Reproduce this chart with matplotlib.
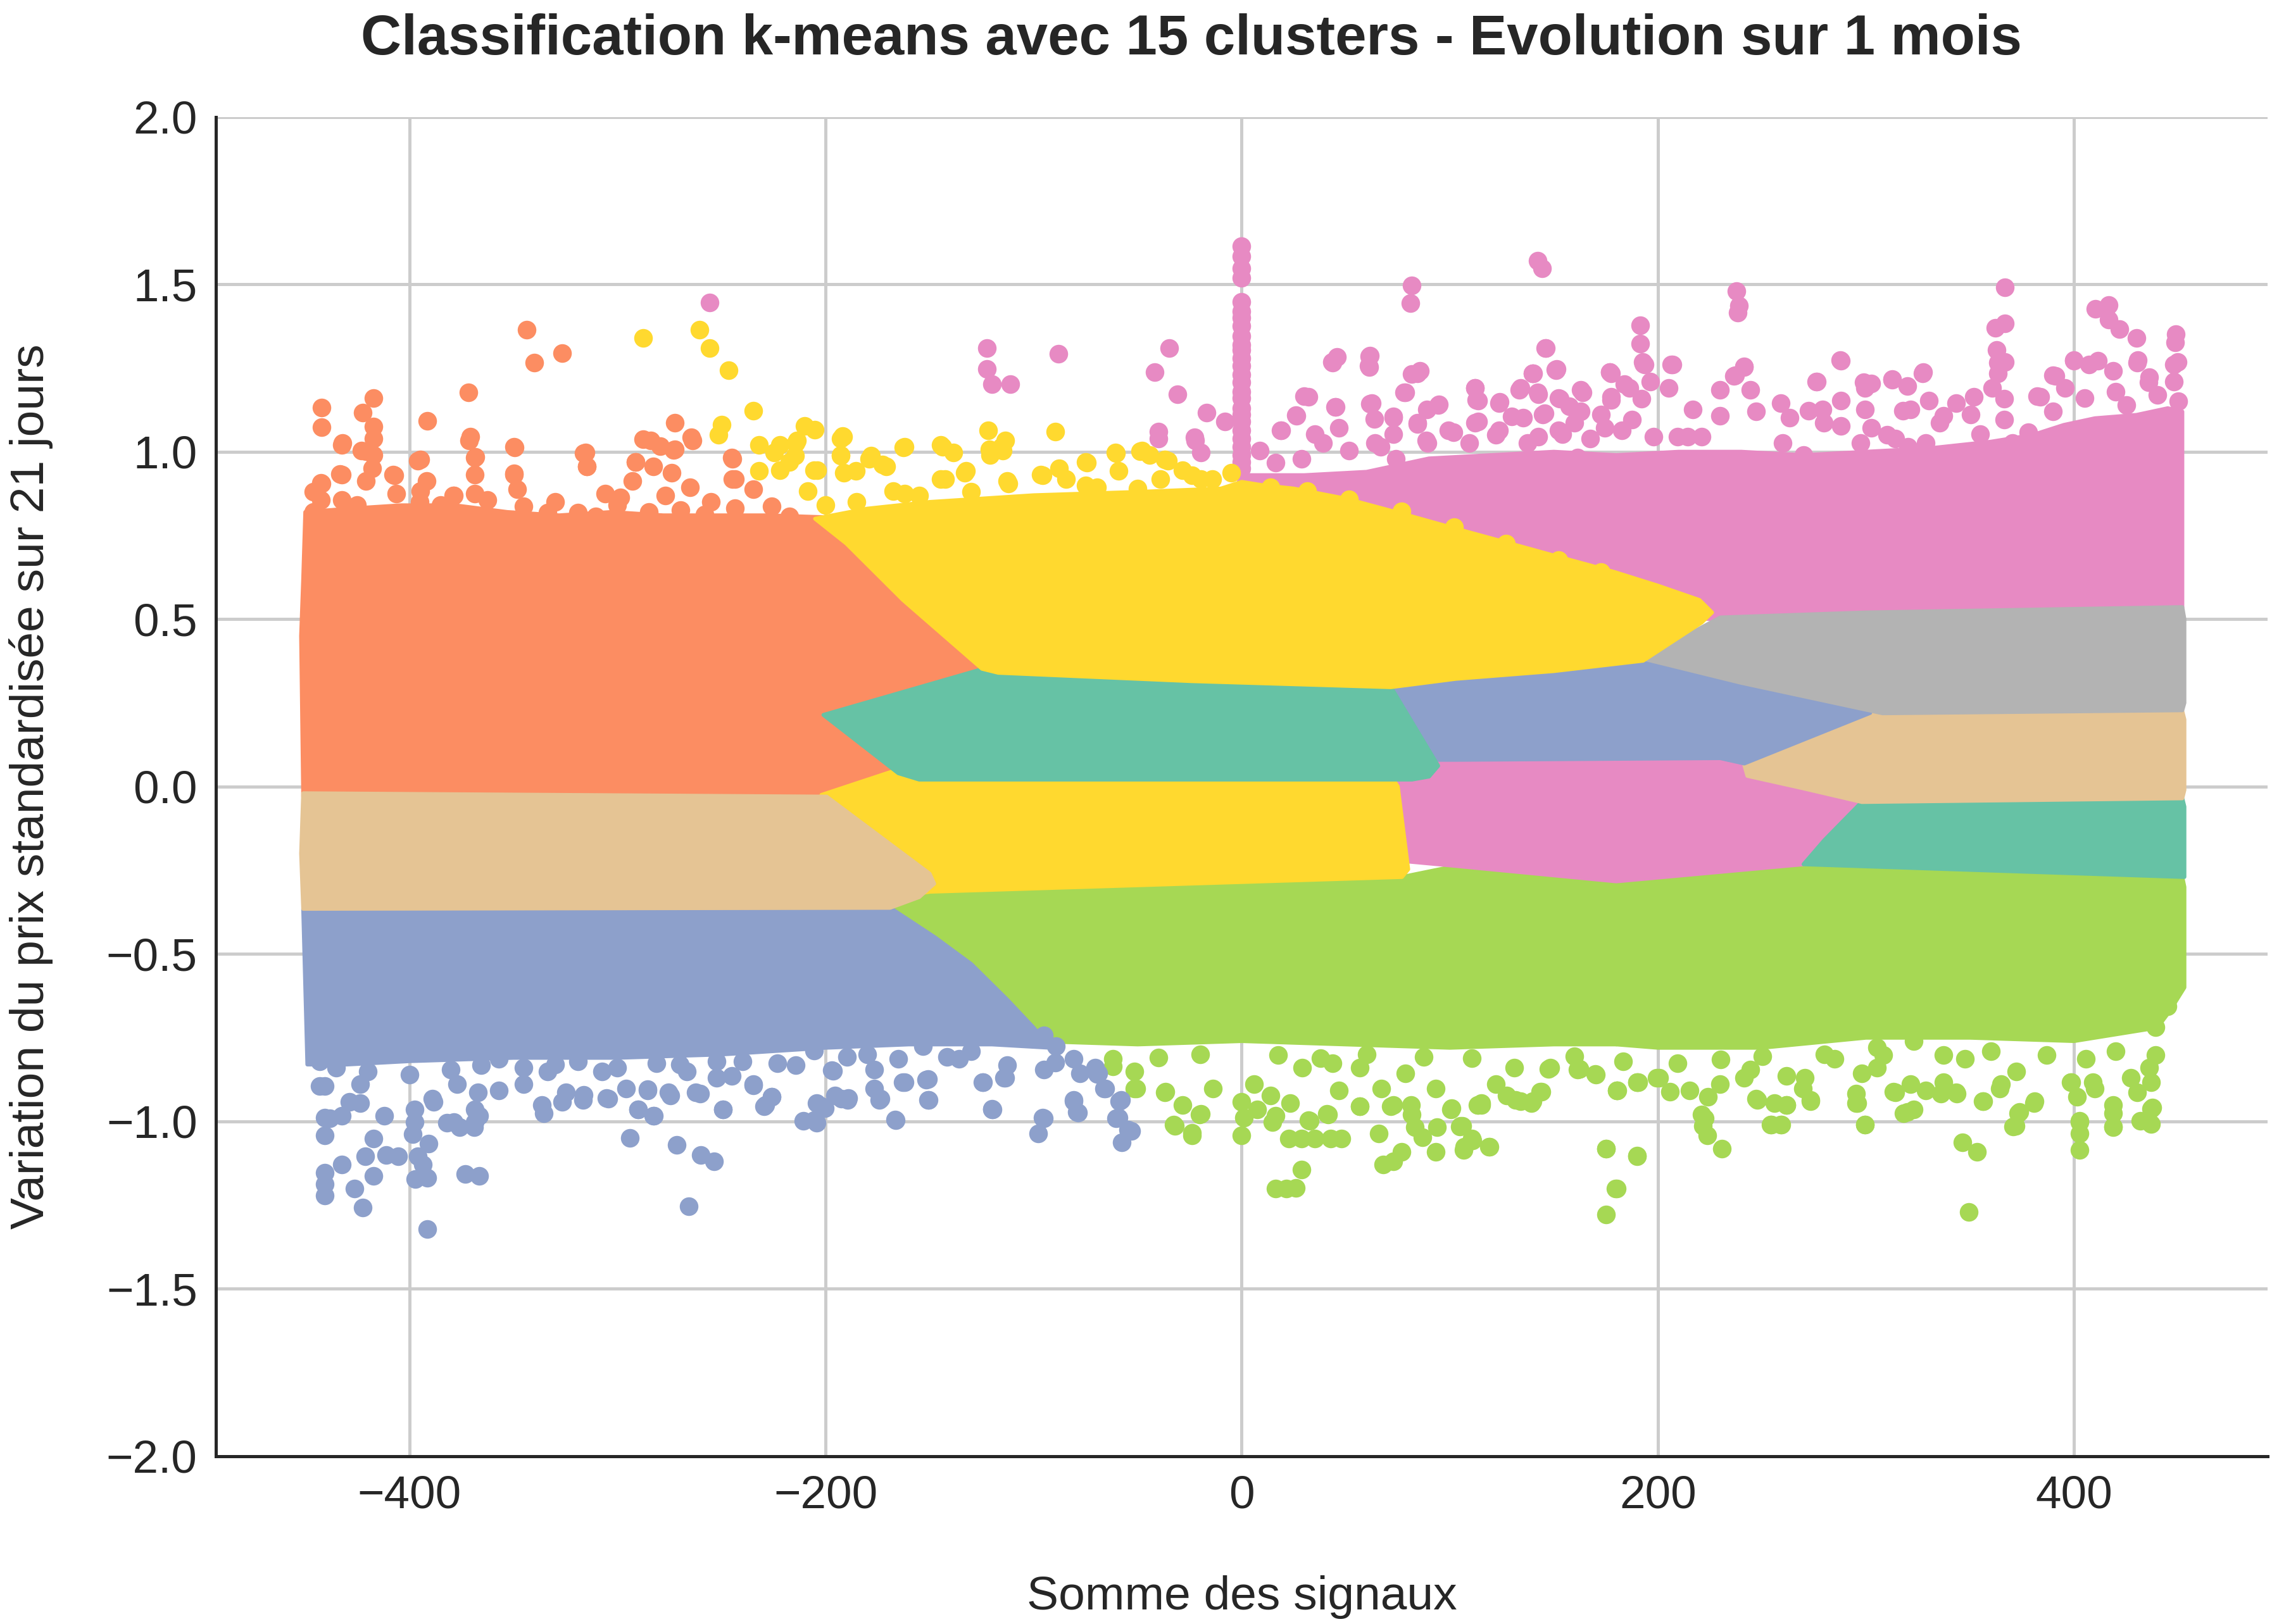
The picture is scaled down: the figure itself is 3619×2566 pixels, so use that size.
import matplotlib
matplotlib.use("Agg")
import matplotlib.pyplot as plt

# ---------------------------
#  Data
# ---------------------------

# Set2 palette, cluster colours
C_TEAL = "#66c2a5"
C_ORANGE = "#fc8d62"
C_BLUE = "#8da0cb"
C_PINK = "#e78ac3"
C_GREEN = "#a6d854"
C_YELLOW = "#ffd92f"
C_TAN = "#e5c494"
C_GREY = "#b3b3b3"

# dense area of each cluster (outer outline of the packed points)
pink_top_shape = [(-5, 0.86), (0, 0.93), (30, 0.93), (60, 0.94), (90, 0.98), (120, 0.99),
                  (150, 1.0), (180, 0.99), (210, 1.0), (240, 1.0), (270, 0.99), (300, 1.0),
                  (330, 1.01), (360, 1.03), (380, 1.05), (395, 1.08), (410, 1.10), (430, 1.11),
                  (445, 1.13), (452, 1.12), (452, 0.535), (225, 0.50), (150, 0.55), (60, 0.70)]
orange_shape = [(-451, -0.03), (-452, 0.45), (-451, 0.62), (-450, 0.82), (-429, 0.83),
                (-404, 0.84), (-378, 0.84), (-353, 0.82), (-328, 0.81), (-303, 0.82),
                (-278, 0.81), (-252, 0.81), (-227, 0.81), (-180, 0.80), (-110, 0.36),
                (-110, 0.0), (-200, -0.03)]
green_left_shape = [(-169, -0.362), (-150, -0.314), (77, -0.27), (103, -0.237), (180, -0.283),
                    (180, -0.77), (150, -0.77), (100, -0.78), (50, -0.77), (0, -0.76),
                    (-50, -0.77), (-100, -0.76), (-105, -0.70)]
green_right_shape = [(180, -0.283), (270, -0.232), (452, -0.27), (453, -0.30), (453, -0.60),
                     (446, -0.67), (440, -0.72), (400, -0.76), (350, -0.75), (300, -0.75),
                     (250, -0.78), (200, -0.78), (180, -0.77)]
pink_mid_shape = [(72, 0.085), (242, 0.085), (243, 0.03), (298, -0.046), (280, -0.16),
                  (270, -0.232), (180, -0.283), (103, -0.237), (77, -0.222), (72, 0.0)]
teal_right_shape = [(298, -0.046), (452, -0.035), (453, -0.06), (453, -0.27), (270, -0.232),
                    (280, -0.16)]
tan_right_shape = [(241.5, 0.065), (261, 0.135), (282, 0.195), (302, 0.222), (452, 0.225),
                   (453, 0.20), (453, -0.01), (452, -0.035), (298, -0.046), (269, -0.004),
                   (243, 0.032)]
blue_mid_shape = [(72, 0.297), (103, 0.322), (192.9, 0.382), (240, 0.31), (295, 0.231),
                  (302, 0.22), (241.5, 0.069), (230, 0.085), (103, 0.08), (80, 0.08)]
grey_shape = [(192.9, 0.382), (230, 0.505), (300, 0.52), (452, 0.536), (453, 0.50),
              (453, 0.25), (452, 0.228), (308, 0.219), (240, 0.31)]
blue_left_shape = [(-451, -0.365), (-169, -0.362), (-147.5, -0.45), (-130, -0.53),
                   (-112.6, -0.637), (-100, -0.72), (-92, -0.78), (-120, -0.77), (-160, -0.77),
                   (-200, -0.78), (-250, -0.80), (-300, -0.81), (-350, -0.81), (-400, -0.82),
                   (-430, -0.83), (-449, -0.83)]
yellow_low_shape = [(-202, -0.025), (-167, 0.047), (-150, 0.05), (72, 0.03), (75, 0.0),
                    (80, -0.247), (77, -0.27), (-150, -0.314), (-165, -0.33)]
tan_left_shape = [(-451, -0.02), (-199.5, -0.03), (-150, -0.26), (-147.8, -0.29),
                  (-155, -0.33), (-169, -0.362), (-451, -0.365), (-452, -0.20)]
teal_left_shape = [(-201, 0.214), (-124, 0.352), (-24, 0.315), (71.7, 0.297), (94.4, 0.062),
                   (90, 0.03), (81.8, 0.021), (-155, 0.021), (-165, 0.04)]
yellow_top_shape = [(-205, 0.80), (-180, 0.83), (-150, 0.85), (-100, 0.87), (-50, 0.88),
                    (-10, 0.89), (0, 0.91), (10, 0.90), (25, 0.89), (50, 0.86), (80, 0.81),
                    (103, 0.77), (129, 0.726), (150, 0.69), (179, 0.641), (200, 0.60),
                    (220, 0.557), (226, 0.52), (221, 0.49), (192.9, 0.376), (150, 0.345),
                    (103, 0.322), (71.7, 0.297), (-24, 0.315), (-117, 0.34), (-124.8, 0.352),
                    (-162.7, 0.557), (-190, 0.726)]

# single points outside the dense areas
orange_pts = [(-442.3, 1.132), (-442.3, 1.073), (-417.3, 1.160), (-422.4, 1.117), (-417.3, 1.075),
              (-417.3, 1.039), (-432.2, 1.027), (-423.1, 1.003), (-417.3, 0.991), (-433.2, 0.933),
              (-442.3, 0.906), (-407.2, 0.930), (-391.4, 1.093), (-371.5, 1.178), (-370.7, 1.045),
              (-368.2, 0.985), (-395.9, 0.973), (-349.5, 1.012), (-343.5, 1.364), (-340.0, 1.266),
              (-326.6, 1.295), (-315.3, 0.997), (-314.8, 0.957), (-287.6, 1.037), (-272.4, 1.087),
              (-264.4, 1.043), (-273.0, 1.005), (-291.3, 0.969), (-279.5, 1.017), (-244.7, 0.979),
              (-244.7, 0.918), (-349.8, 0.936), (-379.0, 0.870), (-442.6, 0.907), (-442.6, 0.856),
              (-432.4, 0.932), (-432.4, 1.020), (-432.4, 0.856), (-420.8, 1.001), (-417.9, 0.951),
              (-420.8, 0.913), (-407.7, 0.932), (-406.2, 0.875), (-394.6, 0.976), (-391.7, 0.913),
              (-394.6, 0.882), (-378.6, 0.869), (-371.3, 1.033), (-368.4, 0.982), (-368.4, 0.932),
              (-368.4, 0.875), (-362.6, 0.856), (-349.6, 1.014), (-349.6, 0.932), (-348.1, 0.888),
              (-345.2, 0.838), (-333.6, 0.819), (-319.0, 0.819), (-316.1, 0.995), (-314.7, 0.957),
              (-310.3, 0.806), (-305.9, 0.875), (-298.7, 0.863), (-291.4, 0.970), (-292.9, 0.913),
              (-284.1, 1.033), (-282.7, 0.957), (-272.5, 1.008), (-274.0, 0.938), (-276.9, 0.869),
              (-265.2, 0.894), (-263.8, 1.033), (-269.6, 0.825), (-258.0, 0.812), (-244.9, 0.982),
              (-243.5, 0.919), (-243.5, 0.831), (-234.7, 0.888), (-226.0, 0.838), (-217.3, 0.806),
              (-446.0, 0.820), (-446.0, 0.880), (-425.0, 0.840), (-385.0, 0.840), (-330.0, 0.850),
              (-300.0, 0.840), (-285.0, 0.820), (-255.0, 0.850), (-395.0, 0.850)]
yellow_pts = [(-287.6, 1.340), (-260.6, 1.364), (-255.6, 1.309), (-246.7, 1.244), (-234.7, 1.123),
              (-249.8, 1.081), (-251.5, 1.051), (-210.0, 1.077), (-205.2, 1.065), (-191.8, 1.047),
              (-231.9, 1.021), (-213.7, 1.033), (-224.6, 0.997), (-232.1, 0.943), (-203.9, 0.945),
              (-191.6, 1.045), (-192.8, 0.991), (-179.0, 0.979), (-162.6, 1.012), (-143.7, 1.015),
              (-138.7, 0.997), (-121.8, 1.063), (-113.5, 1.033), (-114.7, 1.003), (-89.5, 1.061),
              (-121.0, 0.991), (-60.6, 0.997), (-48.0, 1.003), (-44.2, 0.991), (-35.4, 0.973),
              (-74.4, 0.967), (-95.8, 0.930), (-172.7, 0.961), (-185.3, 0.943), (-167.6, 0.882),
              (-155.0, 0.870), (-142.4, 0.918), (-132.4, 0.943), (-112.2, 0.906), (-84.5, 0.918),
              (-69.4, 0.894), (-59.3, 0.943), (-39.1, 0.918), (-24.0, 0.930), (-14.0, 0.918),
              (13.8, 0.894), (31.4, 0.882), (51.6, 0.858), (76.8, 0.822), (102.0, 0.774),
              (127.0, 0.726), (152.4, 0.677), (172.5, 0.641), (-221.8, 1.020), (-214.6, 0.989),
              (-221.8, 0.945), (-214.4, 1.026), (-217.3, 0.970), (-205.6, 0.945), (-208.6, 0.882),
              (-192.6, 0.989), (-192.6, 1.039), (-191.1, 0.938), (-178.0, 0.989), (-170.8, 0.957),
              (-162.0, 1.014), (-162.0, 0.875), (-144.6, 1.020), (-144.6, 0.919), (-133.0, 0.938),
              (-121.3, 1.008), (-112.6, 0.913), (-115.5, 1.014), (-96.6, 0.932), (-87.9, 0.951),
              (-74.9, 0.970), (-60.3, 0.995), (-48.7, 1.001), (-37.1, 0.976), (-19.6, 0.919),
              (-5.1, 0.938), (-28.3, 0.945), (-200.0, 0.840), (-185.0, 0.850), (-130.0, 0.880),
              (-75.0, 0.900), (-50.0, 0.890)]
pink_pts = [(-255.6, 1.446), (-122.5, 1.310), (-122.5, 1.248), (-120.0, 1.202), (-111.2, 1.202),
            (-88.0, 1.292), (-34.8, 1.310), (-41.9, 1.237), (-30.8, 1.172), (-17.0, 1.117),
            (-8.2, 1.090), (-39.9, 1.061), (-22.8, 1.044), (-19.7, 0.997), (-40.0, 1.039),
            (-22.5, 1.033),
            (0, 1.613), (0, 1.583), (0, 1.548), (0, 1.52), (0, 1.447), (0, 1.42), (0, 1.40),
            (0, 1.376), (0, 1.346), (0, 1.32), (0, 1.304), (0, 1.28), (0, 1.256), (0, 1.23),
            (0, 1.208), (0, 1.18), (0, 1.16), (0, 1.13), (0, 1.111), (0, 1.09), (0, 1.063),
            (0, 1.04), (0, 1.015), (0, 0.99), (0, 0.97), (0, 0.95),
            (81.8, 1.497), (81.0, 1.443), (142.3, 1.570), (144.3, 1.548), (45.8, 1.283),
            (43.3, 1.268), (61.6, 1.286), (60.9, 1.256), (30.1, 1.166), (44.8, 1.133),
            (25.9, 1.109), (18.8, 1.063), (81.8, 1.232), (85.6, 1.242), (78.0, 1.178),
            (61.6, 1.144), (63.7, 1.097), (73.0, 1.105), (94.9, 1.141), (88.9, 1.126),
            (84.3, 1.087), (112.0, 1.190), (112.8, 1.154), (123.9, 1.148), (146.1, 1.310),
            (139.7, 1.234), (151.1, 1.244), (133.5, 1.184), (142.3, 1.178), (152.4, 1.160),
            (163.7, 1.178), (176.8, 1.238), (183.8, 1.202), (177.6, 1.154), (191.4, 1.377),
            (191.4, 1.322), (192.7, 1.268), (112.0, 1.087), (129.7, 1.105), (144.8, 1.111),
            (159.9, 1.087), (237.6, 1.479), (238.9, 1.437), (238.4, 1.415), (366.7, 1.491),
            (410.2, 1.427), (416.6, 1.439), (416.6, 1.395), (421.7, 1.367), (430.1, 1.340),
            (449.0, 1.352), (448.5, 1.326), (362.1, 1.371), (366.7, 1.383), (362.9, 1.304),
            (145.9, 1.309), (140.0, 1.234), (150.7, 1.246), (192.9, 1.262), (207.0, 1.261),
            (176.8, 1.238), (241.5, 1.254), (236.4, 1.226), (287.5, 1.274), (276.0, 1.210),
            (299.0, 1.208), (312.5, 1.217), (327.4, 1.238), (400.0, 1.274), (430.6, 1.274),
            (449.8, 1.268), (366.7, 1.268), (391.0, 1.226), (382.1, 1.166), (435.7, 1.208),
            (43.8, 1.266), (61.2, 1.253), (61.2, 1.285), (84.5, 1.234), (78.6, 1.178),
            (32.1, 1.165), (45.2, 1.134), (26.3, 1.108), (62.6, 1.146), (72.8, 1.102),
            (84.5, 1.083), (94.6, 1.140), (19.0, 1.064), (35.0, 1.052), (46.7, 1.071),
            (64.1, 1.027), (72.8, 1.052), (88.8, 1.033), (101.9, 1.058), (112.1, 1.190),
            (113.5, 1.153), (113.5, 1.090), (123.7, 1.146), (123.7, 1.064), (133.9, 1.190),
            (139.7, 1.234), (151.3, 1.247), (142.6, 1.171), (135.3, 1.102), (145.5, 1.115),
            (142.6, 1.045), (152.8, 1.159), (163.0, 1.184), (163.0, 1.121), (154.2, 1.052),
            (161.5, 0.982), (177.5, 1.234), (177.5, 1.165), (174.6, 1.071), (186.2, 1.190),
            (192.0, 1.159), (187.6, 1.096), (193.5, 1.260), (196.4, 1.209), (197.8, 1.045),
            (205.1, 1.190), (206.5, 1.260), (209.4, 1.045), (216.7, 1.127), (221.1, 1.045),
            (229.8, 1.184), (229.8, 1.108), (237.1, 1.228), (241.4, 1.253), (244.3, 1.184),
            (247.2, 1.121), (258.9, 1.146), (263.2, 1.102), (276.3, 1.209), (279.2, 1.127),
            (287.9, 1.272), (287.9, 1.152), (287.9, 1.077), (299.6, 1.190), (302.5, 1.203),
            (299.6, 1.127), (302.5, 1.071), (314.1, 1.039), (312.6, 1.215), (319.9, 1.197),
            (321.3, 1.127), (327.2, 1.234), (330.1, 1.152), (337.3, 1.108), (343.2, 1.146),
            (328.6, 1.027), (351.9, 1.165), (360.6, 1.190), (363.5, 1.266), (363.5, 1.234),
            (366.4, 1.159), (366.4, 1.096), (354.8, 1.052), (378.0, 1.058), (383.8, 1.165),
            (389.7, 1.228), (389.7, 1.121), (399.8, 1.272), (407.1, 1.260), (418.7, 1.241),
            (430.4, 1.266), (436.2, 1.222), (447.8, 1.260), (447.8, 1.209), (411.5, 1.272),
            (395.5, 1.190), (8.7, 1.003), (16.3, 0.967), (28.9, 0.979), (39.0, 1.027),
            (51.6, 1.003), (66.7, 1.015), (74.2, 0.979), (89.4, 1.027), (99.4, 1.063),
            (109.5, 1.027), (122.1, 1.051), (137.2, 1.027), (152.4, 1.063), (167.5, 1.039),
            (182.6, 1.063), (172.5, 1.111), (157.4, 1.135), (214.3, 1.045), (272.3, 1.123),
            (317.6, 1.123), (279.8, 1.087), (260.0, 1.027), (270.0, 0.991), (297.5, 1.027),
            (310.1, 1.051), (320.1, 1.015), (335.3, 1.087), (350.4, 1.111), (370.5, 1.027),
            (405.0, 1.160), (420.0, 1.180), (440.0, 1.170), (450.0, 1.150), (425.0, 1.140)]
blue_pts = [(-440.5, -0.895), (-440.5, -0.989), (-440.5, -1.042), (-440.5, -1.153), (-440.5, -1.187),
            (-440.5, -1.221), (-432.4, -0.984), (-432.4, -1.129), (-426.2, -1.201), (-422.4, -1.257),
            (-428.7, -0.941), (-417.3, -1.052), (-417.3, -1.163), (-421.1, -1.105), (-411.0, -1.100),
            (-405.5, -1.105), (-398.4, -1.038), (-395.9, -1.105), (-390.9, -1.066), (-391.4, -1.168),
            (-397.2, -1.172), (-391.4, -1.322), (-393.4, -1.129), (-388.4, -0.941), (-382.0, -1.004),
            (-375.8, -1.018), (-369.0, -1.018), (-366.4, -0.984), (-373.2, -1.158), (-366.4, -1.163),
            (-335.4, -0.975), (-305.2, -0.931), (-316.5, -0.936), (-326.6, -0.941), (-293.9, -1.049),
            (-290.1, -0.965), (-282.5, -0.984), (-285.5, -0.904), (-274.5, -0.922), (-271.4, -1.071),
            (-259.8, -1.100), (-253.6, -1.119), (-265.6, -1.254), (-249.3, -0.965), (-260.4, -0.917),
            (-229.6, -0.955), (-225.8, -0.927), (-234.7, -0.893), (-210.7, -0.999), (-204.4, -1.004),
            (-201.9, -0.955), (-195.6, -0.922), (-189.3, -0.936), (-196.3, -0.849), (-174.2, -0.936),
            (-166.6, -0.994), (-162.8, -0.883), (-150.8, -0.936), (-150.8, -0.873), (-124.5, -0.883),
            (-120.0, -0.962), (-113.7, -0.869), (-189.0, -0.931), (-200.4, -0.960), (-119.8, -0.965),
            (-95.8, -0.989), (-97.9, -1.037), (-80.7, -0.936), (-78.7, -0.973), (-58.0, -0.936),
            (-59.3, -0.989), (-53.0, -1.028), (-57.5, -1.062), (-65.6, -0.902), (-69.4, -0.859),
            (-89.5, -0.825), (-443.0, -0.820), (-443.0, -0.895), (-435.3, -0.839), (-423.7, -0.889),
            (-423.7, -0.946), (-438.2, -0.990), (-412.0, -0.984), (-397.5, -0.965), (-397.5, -1.002),
            (-388.8, -0.933), (-378.6, -1.002), (-368.4, -1.002), (-368.4, -0.965), (-367.0, -0.914),
            (-377.2, -0.889), (-365.5, -0.832), (-356.9, -0.813), (-356.9, -0.908), (-345.2, -0.839),
            (-345.2, -0.889), (-336.4, -0.952), (-333.6, -0.851), (-324.8, -0.914), (-316.1, -0.921),
            (-319.0, -0.820), (-307.4, -0.851), (-304.5, -0.933), (-295.8, -0.902), (-290.0, -0.965),
            (-282.7, -0.984), (-285.6, -0.908), (-275.4, -0.914), (-281.2, -0.826), (-266.7, -0.851),
            (-262.3, -0.914), (-252.2, -0.870), (-252.2, -0.820), (-249.3, -0.965), (-244.9, -0.864),
            (-234.7, -0.889), (-226.0, -0.927), (-228.9, -0.952), (-223.1, -0.826), (-214.4, -0.832),
            (-205.6, -0.788), (-205.6, -0.996), (-204.2, -0.946), (-196.9, -0.848), (-192.5, -0.933),
            (-189.6, -0.807), (-176.6, -0.902), (-173.6, -0.933), (-176.6, -0.845), (-166.4, -0.996),
            (-162.0, -0.883), (-151.8, -0.876), (-150.4, -0.936), (-164.9, -0.813), (-153.3, -0.776),
            (-141.7, -0.807), (-135.8, -0.813), (-124.3, -0.883), (-119.9, -0.965), (-114.1, -0.870),
            (-112.6, -0.832), (-95.2, -0.845), (-95.2, -0.990), (-80.7, -0.939), (-79.2, -0.971),
            (-77.8, -0.857), (-69.0, -0.857), (-66.1, -0.902), (-58.9, -0.939), (-60.3, -0.990),
            (-54.5, -1.024), (-106.8, -0.713), (-95.2, -0.744), (-89.4, -0.776), (-80.7, -0.813),
            (-70.5, -0.839), (-420.0, -0.850), (-400.0, -0.860), (-380.0, -0.845), (-330.0, -0.830),
            (-300.0, -0.840), (-270.0, -0.830), (-240.0, -0.820), (-180.0, -0.800), (-130.0, -0.790)]
green_pts = [(-61.8, -0.813), (-51.6, -0.851), (-51.6, -0.902), (-37.1, -0.914), (-28.3, -0.952),
             (-19.6, -0.977), (-32.7, -1.009), (-24.0, -1.034), (-13.8, -0.902), (-61.8, -0.835),
             (-50.5, -0.902), (-36.6, -0.912), (-32.1, -1.013), (-24.0, -1.042), (-20.2, -0.979),
             (0.0, -1.042), (1.2, -0.989), (0.0, -0.941), (13.8, -0.922), (16.3, -0.984),
             (22.6, -1.052), (28.9, -1.052), (35.2, -1.052), (42.7, -1.052), (47.8, -1.052),
             (32.7, -0.999), (41.5, -0.980), (28.9, -1.144), (16.3, -1.201), (21.3, -1.201),
             (25.9, -1.199), (56.6, -0.955), (65.9, -1.037), (71.7, -0.955), (76.8, -1.090),
             (68.0, -1.129), (73.0, -1.119), (83.1, -1.018), (86.9, -1.047), (93.1, -1.090),
             (93.9, -1.018), (100.7, -0.960), (105.2, -1.013), (110.8, -1.057), (106.5, -1.086),
             (119.1, -1.076), (81.8, -0.980), (175.0, -1.081), (175.0, -1.278), (180.1, -1.201),
             (190.1, -1.105), (180.1, -0.907), (190.1, -0.883), (143.5, -0.912), (113.3, -0.951),
             (127.2, -0.922), (162.4, -0.844), (170.0, -0.859), (147.3, -0.844), (106.0, -1.013),
             (110.6, -1.052), (106.8, -1.076), (118.8, -1.076), (115.0, -0.946), (175.0, -1.081),
             (189.9, -1.103), (179.6, -1.201), (223.6, -1.042), (230.7, -1.081), (221.6, -1.013),
             (221.0, -0.980), (254.3, -1.010), (259.4, -1.010), (299.5, -1.010), (295.7, -0.946),
             (346.3, -1.062), (353.4, -1.090), (349.4, -1.271), (371.8, -1.013), (373.1, -0.975),
             (402.5, -0.999), (402.5, -1.037), (402.5, -1.086), (418.6, -1.018), (418.6, -0.975),
             (437.0, -1.008), (437.0, -0.962), (431.9, -0.999), (356.5, -0.939), (380.8, -0.946),
             (318.2, -0.975), (322.8, -0.965), (180.1, -0.907), (189.9, -0.883), (247.9, -0.936),
             (261.9, -0.951), (273.4, -0.936), (364.2, -0.902), (398.7, -0.883), (408.9, -0.883),
             (437.0, -0.883), (139.2, -0.946), (131.6, -0.936), (113.7, -0.951), (336.1, -0.917),
             (343.7, -0.917), (205.7, -0.912), (162.3, -0.844), (199.3, -0.869), (241.5, -0.869),
             (269.6, -0.902), (295.2, -0.917), (313.1, -0.912), (6.0, -0.889), (7.4, -0.965),
             (14.7, -1.002), (23.4, -0.946), (32.1, -0.996), (40.8, -0.977), (46.7, -0.908),
             (29.2, -0.839), (43.8, -0.826), (56.8, -0.839), (56.8, -0.955), (67.0, -0.902),
             (72.8, -0.952), (81.5, -0.952), (78.6, -0.857), (93.2, -0.902), (100.4, -0.965),
             (104.8, -1.015), (115.0, -0.952), (122.2, -0.889), (133.9, -0.939), (139.7, -0.939),
             (144.0, -0.911), (130.9, -0.839), (148.4, -0.839), (161.5, -0.845), (170.2, -0.861),
             (180.4, -0.908), (190.5, -0.883), (183.3, -0.820), (200.7, -0.870), (215.3, -0.908),
             (222.5, -0.990), (224.0, -0.927), (229.8, -0.889), (247.2, -0.933), (255.9, -0.946),
             (261.8, -0.952), (254.5, -1.009), (258.9, -1.009), (244.3, -0.845), (261.8, -0.864),
             (273.4, -0.939), (270.5, -0.870), (285.0, -0.813), (295.2, -0.946), (299.6, -1.009),
             (298.1, -0.857), (305.4, -0.839), (314.1, -0.914), (319.9, -0.971), (321.3, -0.889),
             (328.6, -0.908), (337.3, -0.883), (337.3, -0.801), (343.2, -0.914), (347.5, -0.813),
             (356.2, -0.939), (364.9, -0.889), (372.2, -0.851), (373.7, -0.971), (370.8, -1.015),
             (380.9, -0.939), (398.4, -0.883), (402.7, -1.002), (401.3, -0.927), (410.0, -0.902),
             (418.7, -1.015), (418.7, -0.952), (427.4, -0.870), (430.4, -0.914), (436.2, -1.002),
             (437.6, -0.958), (436.2, -0.839), (439.1, -0.801), (439.1, -0.719), (444.9, -0.656),
             (405.7, -0.813), (386.8, -0.801), (308.3, -0.801), (250.1, -0.806), (305.4, -0.780),
             (322.8, -0.760), (209.4, -0.826), (110.6, -0.811), (87.4, -0.808), (38.0, -0.811),
             (17.6, -0.802), (-20.0, -0.800), (-40.0, -0.810), (60.0, -0.800), (160.0, -0.805),
             (230.0, -0.815), (280.0, -0.800), (360.0, -0.790), (420.0, -0.790)]

# drawing order matters: later clusters sit on top of earlier ones
clusters = [
    (pink_top_shape, pink_pts, C_PINK),
    (orange_shape, orange_pts, C_ORANGE),
    (green_left_shape, green_pts, C_GREEN),
    (green_right_shape, [], C_GREEN),
    (pink_mid_shape, [], C_PINK),
    (teal_right_shape, [], C_TEAL),
    (tan_right_shape, [], C_TAN),
    (blue_mid_shape, [], C_BLUE),
    (grey_shape, [], C_GREY),
    (blue_left_shape, blue_pts, C_BLUE),
    (yellow_low_shape, [], C_YELLOW),
    (tan_left_shape, [], C_TAN),
    (teal_left_shape, [], C_TEAL),
    (yellow_top_shape, yellow_pts, C_YELLOW),
]

X_TICKS = [-400, -200, 0, 200, 400]
Y_TICKS = [-2.0, -1.5, -1.0, -0.5, 0.0, 0.5, 1.0, 1.5, 2.0]

TITLE = "Classification k-means avec 15 clusters - Evolution sur 1 mois"
XLABEL = "Somme des signaux"
YLABEL = "Variation du prix standardisée sur 21 jours"


def main():
    plt.rcParams["font.family"] = ["Liberation Sans", "DejaVu Sans"]
    plt.rcParams["text.color"] = "#262626"

    fig = plt.figure(figsize=(3619 / 300, 2566 / 300), dpi=300)
    ax = fig.add_axes([0.0942, 0.1033, 0.8956, 0.8247])

    for i, (shape, pts, col) in enumerate(clusters):
        xs = [p[0] for p in shape]
        ys = [p[1] for p in shape]
        ax.fill(xs, ys, color=col, ec=col, lw=1.5, joinstyle="round", zorder=2 + i * 0.1)
        if pts:
            ax.scatter([p[0] for p in pts], [p[1] for p in pts], s=50, color=col,
                       linewidths=0, zorder=2 + i * 0.1 + 0.05)

    ax.set_xlim(-493, 493)
    ax.set_ylim(-2.0, 2.0)
    ax.set_xticks(X_TICKS)
    ax.set_yticks(Y_TICKS)
    ax.grid(True, color="#cccccc", lw=1.2)
    ax.set_axisbelow(True)
    for side in ["top", "right"]:
        ax.spines[side].set_visible(False)
    for side in ["left", "bottom"]:
        ax.spines[side].set_color("#262626")
        ax.spines[side].set_linewidth(1.2)
    ax.tick_params(length=0, pad=7, labelsize=17.5, labelcolor="#262626")

    ax.set_xlabel(XLABEL, fontsize=18, labelpad=22, color="#262626")
    ax.set_ylabel(YLABEL, fontsize=18, labelpad=20, color="#262626")
    fig.text(0.52, 1 - 63 / 2566, TITLE, ha="center", va="center",
             fontsize=21.3, fontweight="bold", color="#262626")

    fig.savefig("out.png", dpi=300)


if __name__ == "__main__":
    main()
